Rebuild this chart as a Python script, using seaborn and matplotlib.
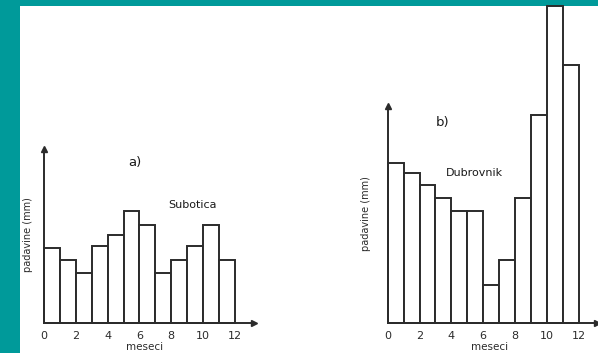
import matplotlib
matplotlib.use("Agg")
import matplotlib.pyplot as plt
import seaborn as sns
from matplotlib.patches import Rectangle

sns.set_theme(style="white")
plt.rcParams["font.family"] = ["DejaVu Sans"]

# monthly precipitation (mm)
months = [0, 1, 2, 3, 4, 5, 6, 7, 8, 9, 10, 11]
bin_edges = [0, 1, 2, 3, 4, 5, 6, 7, 8, 9, 10, 11, 12]
subotica = [45, 38, 30, 46, 53, 67, 59, 30, 38, 46, 59, 38]
dubrovnik = [96, 90, 83, 75, 67, 67, 23, 38, 75, 125, 190, 155]
tick_values = [0, 2, 4, 6, 8, 10, 12]

TEAL = "#009a9a"
INK = "#2b2b2b"
W, H = 598, 353

fig = plt.figure(figsize=(W / 100, H / 100), dpi=100, facecolor=TEAL)
fig.patches.append(Rectangle((20 / W, 0), 1, (H - 6) / H, transform=fig.transFigure,
                             facecolor="white", edgecolor="none", zorder=-5))


def panel(rect, values, xmax, ymax, letter, letter_xy, city, city_xy,
          xlabel_xy, ylabel_xy):
    ax = fig.add_axes(rect)
    ax.set_facecolor("none")
    sns.histplot(x=months, weights=values, bins=bin_edges, ax=ax,
                 color="white", edgecolor=INK, linewidth=1.4, alpha=1)
    for p in ax.patches:
        p.set_clip_on(False)
    ax.set_xlim(0, xmax)
    ax.set_ylim(0, ymax)
    ax.set_xticks(tick_values)
    ax.set_yticks([])
    ax.tick_params(axis="x", length=0, pad=6, labelsize=8, labelcolor=INK)
    sns.despine(ax=ax)
    for side in ("left", "bottom"):
        ax.spines[side].set_color(INK)
        ax.spines[side].set_linewidth(1.4)
    # arrow heads on the axes
    ax.plot(0, 1, "^", color=INK, markersize=4.5, transform=ax.transAxes, clip_on=False)
    ax.plot(1, 0, ">", color=INK, markersize=4.5, transform=ax.transAxes, clip_on=False)

    ax.set_xlabel("meseci", fontsize=7.5, color=INK)
    ax.xaxis.set_label_coords(*xlabel_xy)
    ax.set_ylabel("padavine (mm)", fontsize=7, color=INK)
    ax.yaxis.set_label_coords(*ylabel_xy)

    ax.text(*letter_xy, letter, fontsize=9.5, color="#1a1a1a", ha="center", va="center")
    ax.text(*city_xy, city, fontsize=8, color="#1a1a1a", ha="center", va="center")
    return ax


panel([44 / W, 30 / H, 210 / W, 174 / H], subotica, 13.2, 104.4,
      "a)", (5.72, 96.6), "Subotica", (9.33, 70.8),
      (0.48, -0.108), (-0.052, 0.506))

panel([387.7 / W, 30 / H, 209 / W, 216.7 / H], dubrovnik, 13.13, 130,
      "b)", (3.42, 120), "Dubrovnik", (5.47, 89.8),
      (0.485, -0.088), (-0.08, 0.506))

fig.savefig("out.png", dpi=100, facecolor=TEAL)
